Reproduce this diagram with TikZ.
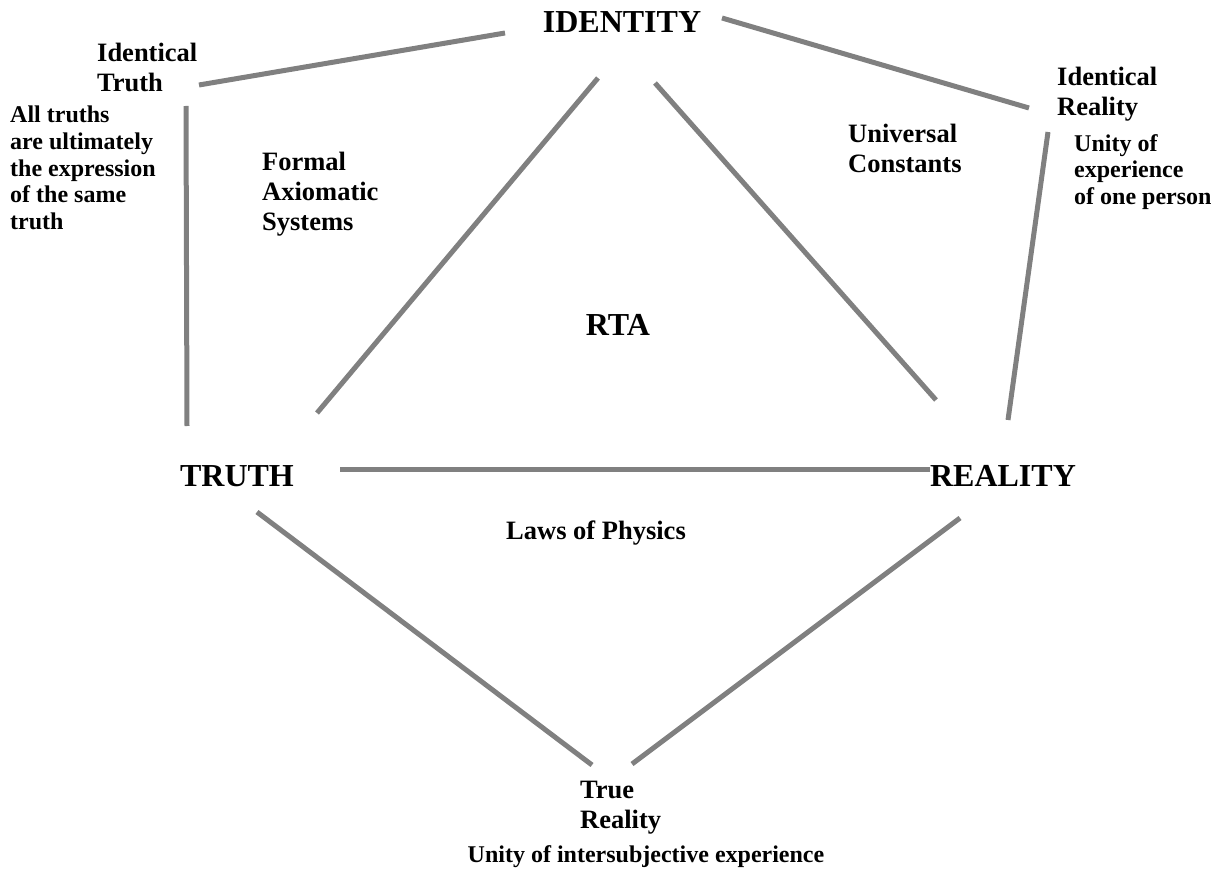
\documentclass[tikz,border=0pt]{standalone}
\usepackage{fontspec}
\setmainfont{Liberation Serif}
\begin{document}
\begin{tikzpicture}[x=1pt,y=-1pt,
  conn/.style={draw=black!50,line width=5pt},
  big/.style={font=\bfseries\fontsize{32}{36}\selectfont,inner sep=0pt},
  mid/.style={font=\bfseries\fontsize{26.5}{30}\selectfont,inner sep=0pt,align=left},
  small/.style={font=\bfseries\fontsize{24}{26.7}\selectfont,inner sep=0pt,align=left}]
\useasboundingbox (0,0) rectangle (1219,869);
% main labels
\node[big] (identity) at (622,22) {IDENTITY};
\node[big] (truth) at (237,476) {TRUTH};
\node[big] (reality) at (1003,476) {REALITY};
\node[big] (rta) at (618,325) {RTA};
\node[mid] (laws) at (596,533) {Laws of Physics};
\node[mid,anchor=west] (idtruth) at (97,67) {Identical\\Truth};
\node[small,anchor=west] (alltruths) at (10,168) {All truths\\are ultimately\\the expression\\of the same\\truth};
\node[mid,anchor=west] (formal) at (262,194) {Formal\\Axiomatic\\Systems};
\node[mid,anchor=west] (universal) at (848,148) {Universal\\Constants};
\node[mid,anchor=west] (idreality) at (1057,94) {Identical\\Reality};
\node[small,anchor=west] (unity1) at (1074,172) {Unity of\\experience\\of one person};
\node[mid,anchor=west] (truereality) at (580,808) {True\\Reality};
\node[small] (unity2) at (646,857) {Unity of intersubjective experience};
% connector end points
\coordinate (a1) at (505,33);  \coordinate (a2) at (199,85);
\coordinate (b1) at (722,18);  \coordinate (b2) at (1029,108);
\coordinate (c1) at (186,106); \coordinate (c2) at (187,426);
\coordinate (d1) at (1048,132); \coordinate (d2) at (1008,420);
\coordinate (e1) at (598,78);  \coordinate (e2) at (317,413);
\coordinate (f1) at (655,83);  \coordinate (f2) at (936,400);
\coordinate (g1) at (340,469); \coordinate (g2) at (930,469);
\coordinate (h1) at (257,512); \coordinate (h2) at (592,765);
\coordinate (i1) at (960,518); \coordinate (i2) at (632,764);
\draw[conn] (a1) -- (a2);
\draw[conn] (b1) -- (b2);
\draw[conn] (c1) -- (c2);
\draw[conn] (d1) -- (d2);
\draw[conn] (e1) -- (e2);
\draw[conn] (f1) -- (f2);
\draw[conn] (g1) -- (g2);
\draw[conn] (h1) -- (h2);
\draw[conn] (i1) -- (i2);
\end{tikzpicture}
\end{document}
